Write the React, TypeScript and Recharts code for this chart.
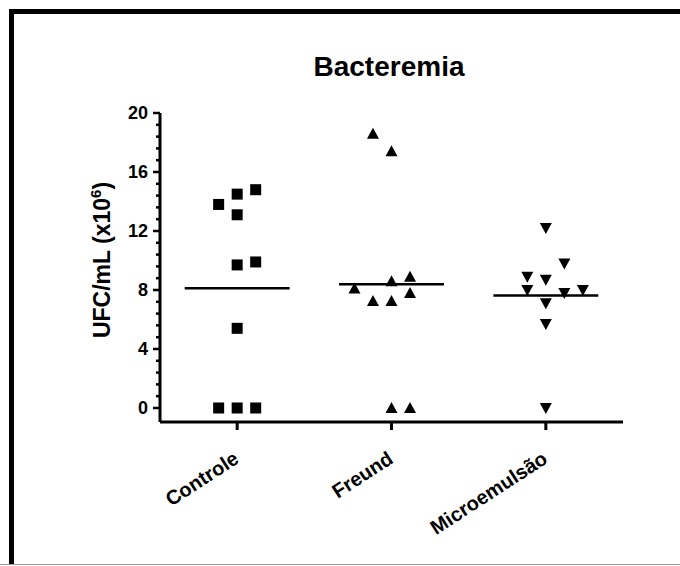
import React from "react";
import { ScatterChart, Scatter, XAxis, YAxis, ReferenceLine } from "recharts";

const groups = ["Controle", "Freund", "Microemulsão"];
const controle = [13.8, 14.5, 14.8, 13.1, 9.7, 9.9, 5.4, 0, 0, 0];
const controleCols = [-1, 0, 1, 0, 0, 1, 0, -1, 0, 1];
const freund = [18.6, 17.4, 8.1, 8.6, 8.9, 7.8, 7.25, 7.25, 0, 0];
const freundCols = [-1, 0, -2, 0, 1, 1, -1, 0, 0, 1];
const micro = [12.2, 9.8, 8.9, 8.7, 8.0, 7.8, 8.0, 7.1, 5.7, 0];
const microCols = [0, 1, -1, 0, -1, 1, 2, 0, 0, 0];
const majorTicks = [0, 4, 8, 12, 16, 20];

const FONT = "'Liberation Sans', Arial, sans-serif";
const COL_STEP = 0.12;
const HALF_MEAN = 0.34;

// minor ticks every 0.8 (5 per major interval)
const allTicks: number[] = [];
for (let i = 0; i <= 25; i++) allTicks.push(Math.round(i * 0.8 * 100) / 100);

const toPoints = (vals: number[], cols: number[], pos: number) =>
  vals.map((v, i) => ({ x: pos + cols[i] * COL_STEP, y: v }));

const mean = (vals: number[]) => vals.reduce((a, b) => a + b, 0) / vals.length;

const Square = (p: any) => (
  <rect x={p.cx - 5.5} y={p.cy - 5.5} width={11} height={11} fill="#000" />
);
const Tri = (p: any) => (
  <polygon
    points={`${p.cx},${p.cy - 6} ${p.cx + 6},${p.cy + 5} ${p.cx - 6},${p.cy + 5}`}
    fill="#000"
  />
);
const InvTri = (p: any) => (
  <polygon
    points={`${p.cx - 6},${p.cy - 5} ${p.cx + 6},${p.cy - 5} ${p.cx},${p.cy + 6}`}
    fill="#000"
  />
);

const YTick = (props: any) => {
  const { x, y, payload } = props;
  const major = majorTicks.some((t) => Math.abs(t - payload.value) < 0.01);
  return (
    <g>
      <line x1={x - (major ? 7 : 4)} x2={x} y1={y} y2={y} stroke="#000" strokeWidth={2.5} />
      {major && (
        <text
          x={x - 12}
          y={y + 6}
          textAnchor="end"
          fontFamily={FONT}
          fontWeight="bold"
          fontSize={18}
          fill="#000"
        >
          {Math.round(payload.value)}
        </text>
      )}
    </g>
  );
};

const XTick = (props: any) => {
  const { x, y, payload } = props;
  const label = groups[Math.round(payload.value) - 1];
  const tx = x + 3;
  const ty = y + 40;
  return (
    <g>
      <line x1={x} x2={x} y1={y} y2={y + 8} stroke="#000" strokeWidth={3} />
      <text
        x={tx}
        y={ty}
        transform={`rotate(-33, ${tx}, ${ty})`}
        textAnchor="end"
        fontFamily={FONT}
        fontWeight="bold"
        fontSize={20}
        fill="#000"
      >
        {label}
      </text>
    </g>
  );
};

const YLabel = () => (
  <text
    x={102}
    y={252}
    transform="rotate(-90, 102, 252)"
    textAnchor="middle"
    fontFamily={FONT}
    fontWeight="bold"
    fontSize={23}
    fill="#000"
  >
    UFC/mL (x10
    <tspan dy={-9} fontSize={15}>6</tspan>
    <tspan dy={9}>)</tspan>
  </text>
);

export default function App() {
  const series = [
    { vals: controle, cols: controleCols, shape: Square },
    { vals: freund, cols: freundCols, shape: Tri },
    { vals: micro, cols: microCols, shape: InvTri },
  ];
  return (
    <div
      style={{
        position: "fixed",
        left: 0,
        top: 0,
        width: 680,
        height: 566,
        overflow: "hidden",
        background: "#fff",
      }}
    >
      {/* frame: thick black top/left, thin grey bottom */}
      <svg width={680} height={566} style={{ position: "absolute", left: 0, top: 0 }}>
        <rect x={9} y={9} width={671} height={5} fill="#000" />
        <rect x={9} y={9} width={5} height={556} fill="#000" />
        <rect x={0} y={564} width={680} height={1} fill="#999" />
      </svg>
      <div
        style={{
          position: "absolute",
          left: 289,
          top: 53,
          width: 200,
          textAlign: "center",
          fontFamily: FONT,
          fontWeight: "bold",
          fontSize: 28,
          lineHeight: "28px",
        }}
      >
        Bacteremia
      </div>
      <div style={{ position: "absolute", left: 8, top: 8 }}>
        <ScatterChart width={664} height={556} margin={{ top: 105, right: 49, left: 92, bottom: 82 }}>
          <XAxis
            type="number"
            dataKey="x"
            domain={[0.5, 3.5]}
            ticks={[1, 2, 3]}
            interval={0}
            allowDataOverflow
            height={60}
            tickSize={0}
            tickMargin={0}
            tickLine={false}
            axisLine={{ stroke: "#000", strokeWidth: 3 }}
            tick={<XTick />}
          />
          <YAxis
            type="number"
            dataKey="y"
            domain={[-0.95, 20]}
            ticks={allTicks}
            interval={0}
            allowDataOverflow
            width={60}
            tickSize={0}
            tickMargin={0}
            tickLine={false}
            axisLine={{ stroke: "#000", strokeWidth: 3 }}
            tick={<YTick />}
            label={<YLabel />}
          />
          {series.map((s, gi) => (
            <Scatter
              key={groups[gi]}
              data={toPoints(s.vals, s.cols, gi + 1)}
              shape={s.shape}
              isAnimationActive={false}
            />
          ))}
          {series.map((s, gi) => (
            <ReferenceLine
              key={"m" + gi}
              segment={[
                { x: gi + 1 - HALF_MEAN, y: mean(s.vals) },
                { x: gi + 1 + HALF_MEAN, y: mean(s.vals) },
              ]}
              stroke="#000"
              strokeWidth={2.5}
            />
          ))}
        </ScatterChart>
      </div>
    </div>
  );
}
